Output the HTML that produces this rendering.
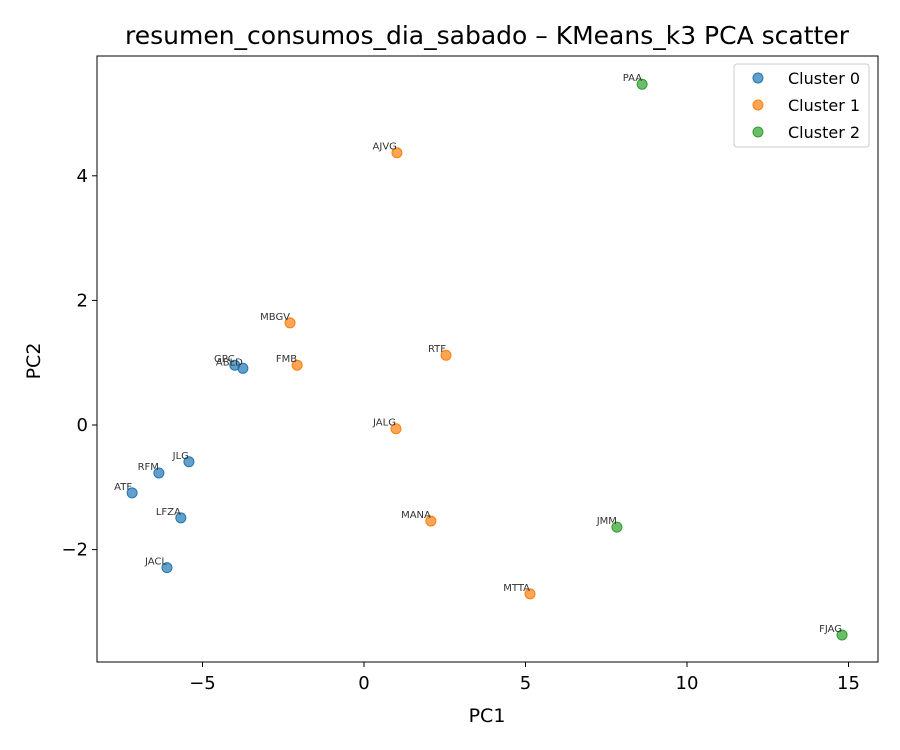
<!DOCTYPE html>
<html><head><meta charset="utf-8"><style>
body{margin:0;background:#fff}
svg{display:block;font-family:"DejaVu Sans","Liberation Sans",sans-serif}
</style></head><body>
<svg id="chart" width="900" height="750">
<rect width="900" height="750" fill="#fff"/>
<text x="487" y="44" font-size="25" text-anchor="middle">resumen_consumos_dia_sabado – KMeans_k3 PCA scatter</text>
<g id="marks"></g>
<rect x="97" y="56" width="781" height="606" fill="none" stroke="#000" stroke-width="1"/>
<g id="axes"></g>
<text x="487" y="722" font-size="19" text-anchor="middle">PC1</text>
<text x="40" y="361" font-size="19" text-anchor="middle" transform="rotate(-90 40 361)">PC2</text>
<g>
<rect x="734" y="64" width="135" height="83" rx="3" fill="#fff" stroke="#ccc"/>
<g><circle cx="758" cy="78" r="5" fill="#1f77b4" fill-opacity="0.7" stroke="#1f77b4"/><text x="788" y="84" font-size="16">Cluster 0</text></g>
<g><circle cx="758" cy="105" r="5" fill="#ff7f0e" fill-opacity="0.7" stroke="#ff7f0e"/><text x="788" y="111" font-size="16">Cluster 1</text></g>
<g><circle cx="758" cy="132" r="5" fill="#2ca02c" fill-opacity="0.7" stroke="#2ca02c"/><text x="788" y="138" font-size="16">Cluster 2</text></g>
</g>
</svg>
<script>
const names=["GPC","ABLD","JLG","RFM","ATF","LFZA","JACL","AJVG","MBGV","FMB","RTF","JALG","MANA","MTTA","PAA","JMM","FJAG"];
const pc1=[-4.0,-3.75,-5.42,-6.35,-7.18,-5.67,-6.1,1.02,-2.29,-2.07,2.54,0.99,2.07,5.14,8.61,7.83,14.8];
const pc2=[0.96,0.91,-0.59,-0.77,-1.09,-1.49,-2.29,4.37,1.64,0.96,1.12,-0.06,-1.54,-2.71,5.47,-1.64,-3.37];
const clusters=[0,0,0,0,0,0,0,1,1,1,1,1,1,1,2,2,2];
const xTicks=[-5,0,5,10,15];
const yTicks=[-2,0,2,4];
const colors=["#1f77b4","#ff7f0e","#2ca02c"];
const NS="http://www.w3.org/2000/svg";
function xs(v){return 364+v*32.3;}
function ys(v){return 425-v*62.3;}
const marks=document.getElementById('marks'),axes=document.getElementById('axes');
function mk(tag,attrs,parent){const e=document.createElementNS(NS,tag);for(const k in attrs)e.setAttribute(k,attrs[k]);parent.appendChild(e);return e;}
xTicks.forEach(t=>{
 const g=mk('g',{},axes);
 
 
 mk('line',{x1:xs(t),x2:xs(t),y1:662,y2:667,stroke:'#000'},g);
 const tx=mk('text',{x:xs(t),y:689,'font-size':18,'text-anchor':'middle'},g);
 tx.textContent=t<0?'−'+(-t):String(t);
});
yTicks.forEach(t=>{
 const g=mk('g',{},axes);
 
 
 mk('line',{x1:92,x2:97,y1:ys(t),y2:ys(t),stroke:'#000'},g);
 const tx=mk('text',{x:88,y:ys(t)+6,'font-size':18,'text-anchor':'end'},g);
 tx.textContent=t<0?'−'+(-t):String(t);
});
names.forEach((n,i)=>{
 const c=colors[clusters[i]];
 const p=mk('circle',{cx:xs(pc1[i]),cy:ys(pc2[i]),r:5,fill:c,'fill-opacity':0.7,stroke:c},marks);
 
 
 const l=mk('text',{x:xs(pc1[i]),y:ys(pc2[i])-3,'font-size':10,'text-anchor':'end',fill:'#333'},marks);
 
 
 l.textContent=n;
});
</script>
</body></html>
